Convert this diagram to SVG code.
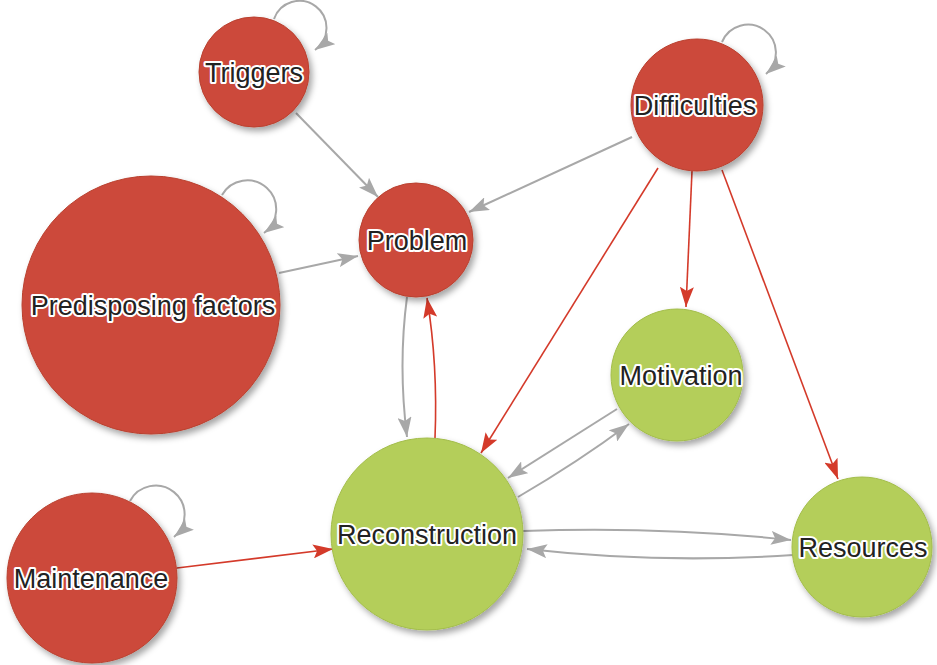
<svg xmlns="http://www.w3.org/2000/svg" width="937" height="665" viewBox="0 0 937 665">
<style>
.red{fill:#cc4a3a;stroke:#b94030;stroke-width:1}
.green{fill:#b4ce5a;stroke:#a3bd4c;stroke-width:1}
.lbl{font-family:"Liberation Sans",Arial,sans-serif;font-size:27px;fill:#222;stroke:#fff;stroke-width:4;stroke-linejoin:round;paint-order:stroke;text-anchor:middle}
.eg{fill:none;stroke:#a8a8a8;stroke-width:2;marker-end:url(#ag)}
.er{fill:none;stroke:#d43a2a;stroke-width:1.6;marker-end:url(#ar)}
</style>
<defs>
<filter id="sh" x="-20%" y="-20%" width="150%" height="150%">
<feDropShadow dx="3" dy="4" stdDeviation="3" flood-color="#000" flood-opacity="0.35"/>
</filter>
<marker id="ag" viewBox="0 0 20 14" refX="20" refY="7" markerWidth="20" markerHeight="14" markerUnits="userSpaceOnUse" orient="auto">
<path d="M0,0 L20,7 L0,14 L4,7 z" fill="#a8a8a8"/>
</marker>
<marker id="ar" viewBox="0 0 20 14" refX="20" refY="7" markerWidth="20" markerHeight="14" markerUnits="userSpaceOnUse" orient="auto">
<path d="M0,0 L20,7 L0,14 L4,7 z" fill="#d43a2a"/>
</marker>
</defs>
<rect width="937" height="665" fill="#fff"/>
<g id="connectors">
<path class="eg" d="M274,19 A27,27 0 1 1 315,50"/>
<path class="eg" d="M722,42 A28,28 0 1 1 766,74"/>
<path class="eg" d="M222,195 A29,29 0 1 1 264,233"/>
<path class="eg" d="M130,501 A29,29 0 1 1 174,537"/>
<path class="eg" d="M296,113 L378,197"/>
<path class="eg" d="M632,137 L469,212"/>
<path class="eg" d="M279,273 L358,256"/>
<path class="eg" d="M407,297 Q398,365 407,437"/>
<path class="er" d="M435,438 Q438,365 427,298"/>
<path class="eg" d="M617,409 L508,478"/>
<path class="eg" d="M518,497 Q578,462 629,424"/>
<path class="eg" d="M523,531 Q660,526 791,540"/>
<path class="eg" d="M793,555 Q660,564 527,549"/>
<path class="er" d="M658,168 L481,453"/>
<path class="er" d="M692,171 L686,307"/>
<path class="er" d="M722,170 L838,479"/>
<path class="er" d="M177,568 L333,549"/>
</g>
<g id="triggers"><circle class="red" cx="254" cy="72" r="55" filter="url(#sh)"/><text class="lbl" x="254" y="82">Triggers</text></g>
<g id="difficulties"><circle class="red" cx="697" cy="105" r="66" filter="url(#sh)"/><text class="lbl" x="695" y="115">Difficulties</text></g>
<g id="predisposing"><circle class="red" cx="151" cy="305" r="129" filter="url(#sh)"/><text class="lbl" x="153" y="315">Predisposing factors</text></g>
<g id="problem"><circle class="red" cx="416" cy="240" r="57" filter="url(#sh)"/><text class="lbl" x="417" y="250">Problem</text></g>
<g id="motivation"><circle class="green" cx="677" cy="375" r="66" filter="url(#sh)"/><text class="lbl" x="681" y="385">Motivation</text></g>
<g id="reconstruction"><circle class="green" cx="427" cy="534" r="96" filter="url(#sh)"/><text class="lbl" x="427" y="544">Reconstruction</text></g>
<g id="maintenance"><circle class="red" cx="92" cy="578" r="85" filter="url(#sh)"/><text class="lbl" x="91" y="588">Maintenance</text></g>
<g id="resources"><circle class="green" cx="862" cy="547" r="70" filter="url(#sh)"/><text class="lbl" x="863" y="557">Resources</text></g>
</svg>
